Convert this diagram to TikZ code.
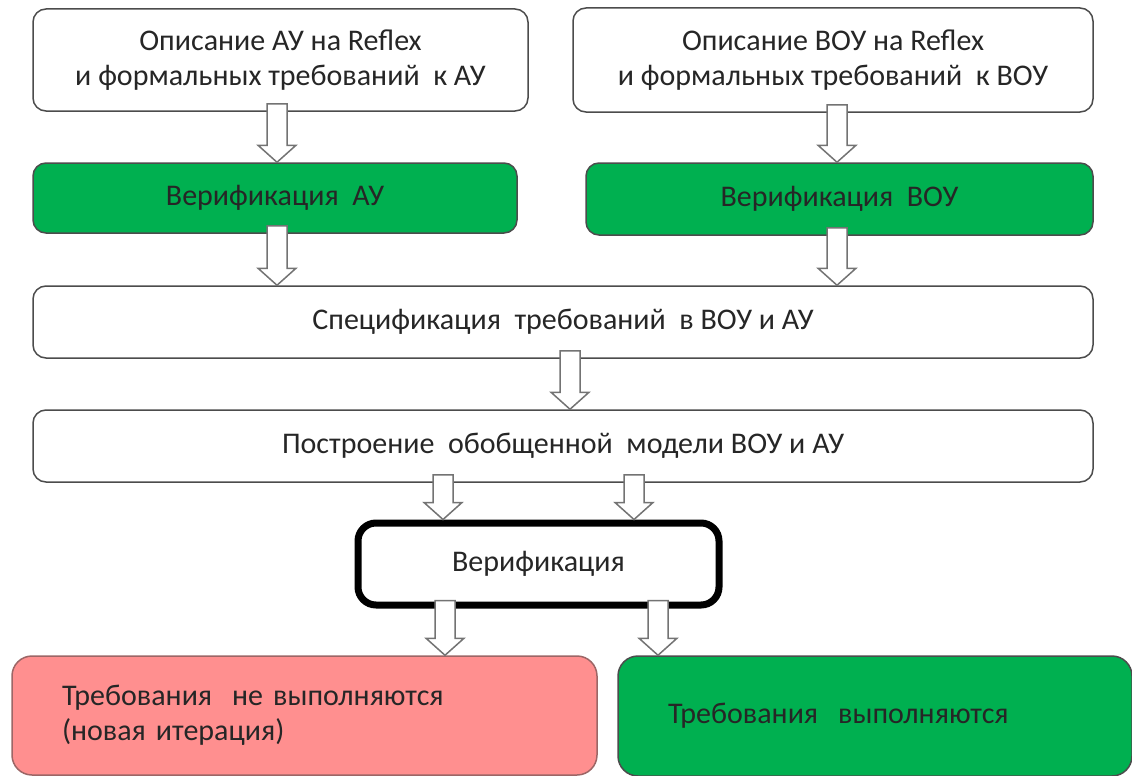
\documentclass[tikz,border=0pt]{standalone}
\usepackage{fontspec}
\setmainfont{Carlito}
\usetikzlibrary{calc}

\definecolor{okgreen}{RGB}{0,176,80}
\definecolor{failpink}{RGB}{255,143,143}

\newcommand{\blockarrow}[3]{%
  \path[blockarr] let \p1=(#2.south), \p2=(#3.north) in
    (#1pt-10pt,\y1+8pt) -- (#1pt+10pt,\y1+8pt) -- (#1pt+10pt,\y2+17pt)
    -- (#1pt+19pt,\y2+17pt) -- (#1pt,\y2) -- (#1pt-19pt,\y2+17pt)
    -- (#1pt-10pt,\y2+17pt) -- cycle;}

\begin{document}
\begin{tikzpicture}
  [x=1pt,y=1pt,every node/.style={draw=black!70,line width=1.5pt,rounded corners=13pt,
   text=black!85,font=\fontsize{30}{35}\selectfont,align=center}]

  \tikzstyle{box} = [fill=white]
  \tikzstyle{greenbox} = [fill=okgreen]
  \tikzstyle{blockarr} = [draw=black!55,fill=white,line width=1.5pt]

  \useasboundingbox (0,0) rectangle (1132,-776);

  \node[box, minimum width=495pt, minimum height=102pt] (descAU) at (280.5,-60)
        {Описание АУ на Reflex\\и формальных требований~ к АУ};
  \node[box, minimum width=520pt, minimum height=104pt] (descVOU) at (833,-60)
        {Описание ВОУ на Reflex\\и формальных требований~ к ВОУ};
  \node[greenbox, minimum width=484pt, minimum height=70pt] (verAU) at (275,-198)
        {Верификация~ АУ};
  \node[greenbox, minimum width=507pt, minimum height=72pt] (verVOU) at (839.5,-199)
        {Верификация~ ВОУ};
  \node[box, minimum width=1060pt, minimum height=72pt] (spec) at (563,-322)
        {Спецификация~ требований~ в ВОУ и АУ};
  \node[box, minimum width=1060pt, minimum height=72pt] (model) at (563,-446)
        {Построение~ обобщенной~ модели ВОУ и АУ};
  \node[box, draw=black, line width=7pt, rounded corners=18pt,
        minimum width=361pt, minimum height=82pt] (verif) at (538.5,-564)
        {Верификация};
  \node[fill=failpink, draw=black!65!red!60, rounded corners=20pt, align=left,
        text width=485pt, inner xsep=50pt, minimum height=119pt] (fail) at (304.5,-715.5)
        {Требования~ не выполняются\\(новая итерация)};
  \node[greenbox, rounded corners=20pt, align=left,
        text width=414pt, inner xsep=50pt, minimum height=120pt] (ok) at (875,-716)
        {Требования~ выполняются};

  \blockarrow{277}{descAU}{verAU}
  \blockarrow{837}{descVOU}{verVOU}
  \blockarrow{277}{verAU}{spec}
  \blockarrow{837}{verVOU}{spec}
  \blockarrow{570}{spec}{model}
  \blockarrow{443}{model}{verif}
  \blockarrow{634}{model}{verif}
  \blockarrow{445}{verif}{fail}
  \blockarrow{658}{verif}{ok}
\end{tikzpicture}
\end{document}
